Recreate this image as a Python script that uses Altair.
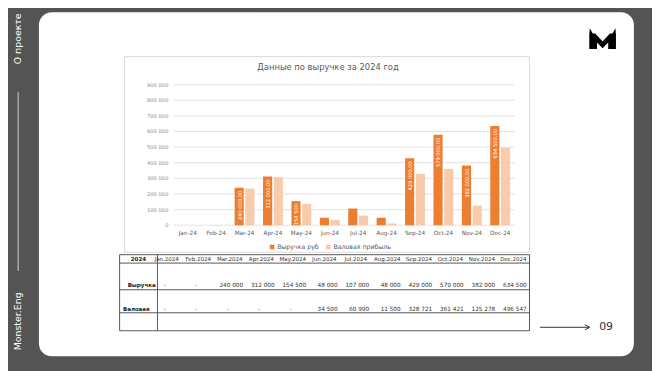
import altair as alt
import pandas as pd

# ---------------- data ----------------
months_axis = ["Jan-24", "Feb-24", "Mar-24", "Apr-24", "May-24", "Jun-24",
               "Jul-24", "Aug-24", "Sep-24", "Oct-24", "Nov-24", "Dec-24"]
months_table = ["Jan.2024", "Feb.2024", "Mar.2024", "Apr.2024", "May.2024", "Jun.2024",
                "Jul.2024", "Aug.2024", "Sep.2024", "Oct.2024", "Nov.2024", "Dec.2024"]
series_names = ["Выручка руб", "Валовая прибыль"]
revenue = [0, 0, 240000, 312000, 154500, 48000, 107000, 48000, 429000, 579000, 382000, 634500]
gross = [0, 0, 235000, 308000, 137000, 34500, 60990, 11500, 328721, 361421, 125278, 496547]
revenue_labels = ["", "", "240 000,00", "312 000,00", "154 500", "", "", "",
                  "429 000,00", "579 000,00", "382 000,00", "634 500,00"]
y_ticks = [0, 100000, 200000, 300000, 400000, 500000, 600000, 700000, 800000, 900000]
y_tick_labels = ["0", "100 000", "200 000", "300 000", "400 000", "500 000",
                 "600 000", "700 000", "800 000", "900 000"]
table_revenue = ["-", "-", "240 000", "312 000", "154 500", "48 000", "107 000",
                 "48 000", "429 000", "579 000", "382 000", "634 500"]
table_gross = ["-", "-", "-", "-", "-", "34 500", "60 990", "11 500",
               "328 721", "361 421", "125 278", "496 547"]
chart_title = "Данные по выручке за 2024 год"
table_year = "2024"
row_names = ["Выручка", "Валовая"]
side_top = "О проекте"
side_bottom = "Monster.Eng"
page_no = "09"

# ---------------- styling ----------------
W, H = 652, 363
O = 8  # page margin offset


def p(v):
    return v - O


FONT = "DejaVu Sans"
ORANGE = "#ED7D31"
PEACH = "#F8CBAD"
BG = "#545454"

bars_df = pd.DataFrame({
    "month": months_axis * 2,
    "series": [series_names[0]] * 12 + [series_names[1]] * 12,
    "value": revenue + gross,
})
lab_df = pd.DataFrame({"month": months_axis, "series": series_names[0],
                       "value": revenue, "label": revenue_labels})
lab_df = lab_df[lab_df["label"] != ""]
ticks_df = pd.DataFrame({"v": y_ticks, "label": y_tick_labels})
xlab_df = pd.DataFrame({"month": months_axis})

xscale = alt.Scale(domain=months_axis, range=[p(175.6), p(520.7)], paddingInner=0.3, paddingOuter=0.15)
yscale = alt.Scale(domain=[0, 900000], range=[p(225.7), p(83.3)])
offscale = alt.Scale(domain=series_names, paddingInner=0.15)
tscale = alt.Scale(domain=months_table, range=[p(152.75), p(535.6)], paddingInner=0, paddingOuter=0)

one = pd.DataFrame({"a": [0]})

layers = []

# white rounded card
layers.append(alt.Chart(one).mark_rect(color="white", cornerRadius=13).encode(
    x=alt.value(p(39.3)), x2=alt.value(p(641.7)), y=alt.value(p(10)), y2=alt.value(p(358.3))))

# side texts and line
layers.append(alt.Chart(pd.DataFrame({"t": [side_top]})).mark_text(
    angle=270, font=FONT, fontSize=9.5, color="white", align="center", baseline="middle").encode(
    text="t:N", x=alt.value(p(18.5)), y=alt.value(p(37))))
layers.append(alt.Chart(pd.DataFrame({"t": [side_bottom]})).mark_text(
    angle=270, font=FONT, fontSize=9.5, color="white", align="center", baseline="middle").encode(
    text="t:N", x=alt.value(p(18.5)), y=alt.value(p(323))))
layers.append(alt.Chart(one).mark_rule(color="#bdbdbd", strokeWidth=1.2).encode(
    x=alt.value(p(18.3)), y=alt.value(p(91)), y2=alt.value(p(272))))

# logo
logo_path = ("M -1 0.62 L -1 -0.45 L -0.96 -0.95 L -0.74 -0.55 L -0.55 -0.55 L 0 0.05 "
             "L 0.55 -0.55 L 0.74 -0.55 L 0.96 -0.95 L 1 -0.45 L 1 0.62 L 0.42 0.62 "
             "L 0.42 0.12 L 0 0.55 L -0.42 0.12 L -0.42 0.62 Z")
layers.append(alt.Chart(one).mark_point(shape=logo_path, filled=True, color="black", opacity=1,
                                        size=729, strokeWidth=0).encode(
    x=alt.value(p(610)), y=alt.value(p(39))))

# chart frame
layers.append(alt.Chart(one).mark_rect(fill="white", stroke="#d9d9d9", strokeWidth=1).encode(
    x=alt.value(p(126)), x2=alt.value(p(536)), y=alt.value(p(55)), y2=alt.value(p(253))))

# title
layers.append(alt.Chart(pd.DataFrame({"t": [chart_title]})).mark_text(
    font=FONT, fontSize=8.5, color="#595959", align="center", baseline="middle").encode(
    text="t:N", x=alt.value(p(332)), y=alt.value(p(66))))

# gridlines
layers.append(alt.Chart(ticks_df).mark_rule(color="#e3e3e3", strokeWidth=1).encode(
    y=alt.Y("v:Q", scale=yscale, axis=None), x=alt.value(p(176)), x2=alt.value(p(521))))
# y labels
layers.append(alt.Chart(ticks_df).mark_text(
    font=FONT, fontSize=5.3, color="#8c8c8c", align="right", baseline="middle").encode(
    y=alt.Y("v:Q", scale=yscale, axis=None), text="label:N", x=alt.value(p(170.5))))

# bars
layers.append(alt.Chart(bars_df).mark_bar().encode(
    x=alt.X("month:N", sort=months_axis, scale=xscale, axis=None),
    xOffset=alt.XOffset("series:N", sort=series_names, scale=offscale),
    y=alt.Y("value:Q", scale=yscale, axis=None),
    color=alt.Color("series:N", sort=series_names,
                    scale=alt.Scale(domain=series_names, range=[ORANGE, PEACH]),
                    legend=alt.Legend(title=None, orient="none", direction="horizontal",
                                      legendX=p(272.2), legendY=p(244.3),
                                      symbolType="square", symbolSize=22, symbolStrokeWidth=0,
                                      labelFont=FONT, labelFontSize=6.3, labelColor="#595959",
                                      labelOffset=2, columnPadding=6, padding=0))))

# bar labels
layers.append(alt.Chart(lab_df).mark_text(
    angle=270, font=FONT, fontSize=5.2, color="white", align="right", baseline="middle", dx=-3).encode(
    x=alt.X("month:N", sort=months_axis, scale=xscale, axis=None),
    xOffset=alt.XOffset("series:N", sort=series_names, scale=offscale),
    y=alt.Y("value:Q", scale=yscale, axis=None),
    text="label:N"))

# x labels
layers.append(alt.Chart(xlab_df).mark_text(
    font=FONT, fontSize=5.8, color="#595959", align="center", baseline="middle").encode(
    x=alt.X("month:N", sort=months_axis, scale=xscale, axis=None),
    text="month:N", y=alt.value(p(233.3))))

# table grid
TL, TR = 121, 536
for yy in [255.5, 264, 291, 314.3, 332.5]:
    layers.append(alt.Chart(one).mark_rule(color="#555555", strokeWidth=1).encode(
        x=alt.value(p(TL)), x2=alt.value(p(TR)), y=alt.value(p(yy))))
for xx in [TL, 159.3, TR]:
    layers.append(alt.Chart(one).mark_rule(color="#555555", strokeWidth=1).encode(
        x=alt.value(p(xx)), y=alt.value(p(255.5)), y2=alt.value(p(332.5))))

# table texts
layers.append(alt.Chart(pd.DataFrame({"t": [table_year]})).mark_text(
    font=FONT, fontSize=5.6, fontWeight="bold", color="#222", align="center", baseline="middle").encode(
    text="t:N", x=alt.value(p(140)), y=alt.value(p(259.8))))
layers.append(alt.Chart(pd.DataFrame({"t": [row_names[0]]})).mark_text(
    font=FONT, fontSize=5.6, fontWeight="bold", color="#222", align="right", baseline="middle").encode(
    text="t:N", x=alt.value(p(157.5)), y=alt.value(p(286.5))))
layers.append(alt.Chart(pd.DataFrame({"t": [row_names[1]]})).mark_text(
    font=FONT, fontSize=5.6, fontWeight="bold", color="#222", align="left", baseline="middle").encode(
    text="t:N", x=alt.value(p(124.5)), y=alt.value(p(311))))

thead_df = pd.DataFrame({"m": months_table})
layers.append(alt.Chart(thead_df).mark_text(
    font=FONT, fontSize=5.6, color="#333", align="center", baseline="middle").encode(
    x=alt.X("m:N", sort=months_table, scale=tscale, axis=None), text="m:N", y=alt.value(p(259.8))))

for vals, yy in [(table_revenue, 286.5), (table_gross, 311)]:
    df = pd.DataFrame({"m": months_table, "t": vals})
    nums = df[df["t"] != "-"]
    dashes = df[df["t"] == "-"]
    layers.append(alt.Chart(nums).mark_text(
        font=FONT, fontSize=5.8, color="#333", align="right", baseline="middle", dx=13.5).encode(
        x=alt.X("m:N", sort=months_table, scale=tscale, axis=None), text="t:N", y=alt.value(p(yy))))
    layers.append(alt.Chart(dashes).mark_text(
        font=FONT, fontSize=5.8, color="#333", align="center", baseline="middle", dx=-2).encode(
        x=alt.X("m:N", sort=months_table, scale=tscale, axis=None), text="t:N", y=alt.value(p(yy))))

# arrow and page number
layers.append(alt.Chart(one).mark_rule(color="#333", strokeWidth=1).encode(
    x=alt.value(p(546.7)), x2=alt.value(p(596.5)), y=alt.value(p(329))))
layers.append(alt.Chart(one).mark_point(shape="M -1 -1 L 1 0 L -1 1", filled=False, color="#333",
                                        size=25, strokeWidth=1, opacity=1).encode(
    x=alt.value(p(594.5)), y=alt.value(p(329))))
layers.append(alt.Chart(pd.DataFrame({"t": [page_no]})).mark_text(
    font=FONT, fontSize=11, color="#333", align="center", baseline="middle").encode(
    text="t:N", x=alt.value(p(613.5)), y=alt.value(p(329))))

chart = alt.layer(*layers).resolve_scale(
    x="independent", y="independent", color="independent", xOffset="independent"
).properties(
    width=W, height=H, padding=0, autosize=alt.AutoSizeParams(type="none"), background=BG
).configure_view(stroke=None)

chart.save("out.html", embed_options={"renderer": "svg", "actions": False})
